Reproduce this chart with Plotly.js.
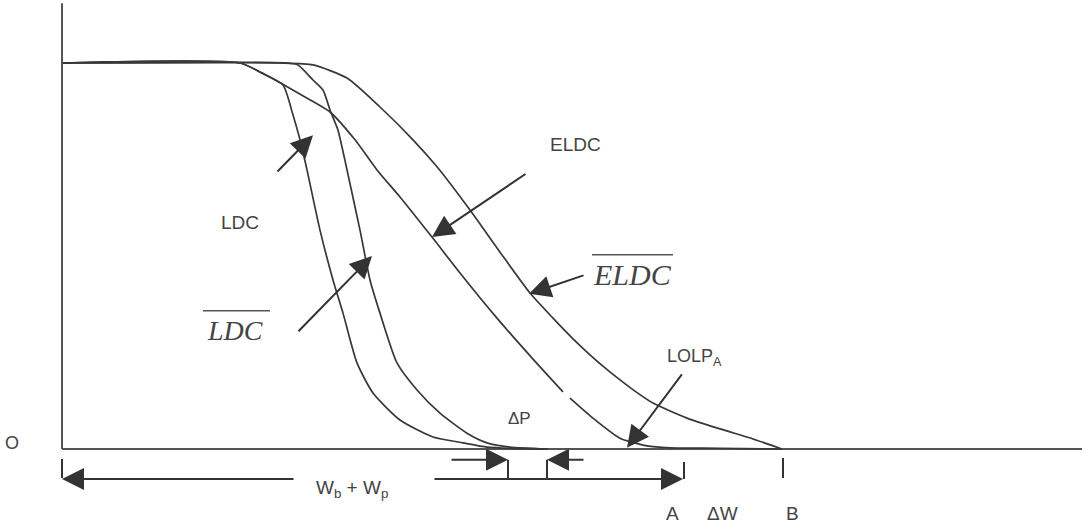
<!DOCTYPE html>
<html>
<head>
<meta charset="utf-8">
<script src="https://cdn.plot.ly/plotly-3.0.1.min.js"></script>
<style>html,body{margin:0;padding:0;background:#fff;}#chart{width:1082px;height:526px;}</style>
</head>
<body>
<div id="chart"></div>
<script>
// Capacity (x) and probability (y) for each curve
const ldcX  = [0, 178, 200, 221, 231, 238, 245, 258, 271, 281, 295, 311, 338, 371, 401, 425, 458, 483];
const ldcY  = [1, 1, 0.974, 0.943, 0.865, 0.801, 0.723, 0.567, 0.438, 0.352, 0.223, 0.145, 0.075, 0.031, 0.016, 0.005, 0.001, 0];

const ldcBarX = [0, 226, 236, 251, 261, 268, 276, 285, 298, 308, 318, 335, 355, 378, 405, 425, 448, 486];
const ldcBarY = [1, 1, 0.995, 0.956, 0.930, 0.878, 0.826, 0.723, 0.567, 0.438, 0.352, 0.223, 0.153, 0.093, 0.041, 0.016, 0.005, 0];

const eldcX = [0, 178, 200, 220, 243, 268, 293, 315, 338, 370, 398, 435, 471, 501, null, 508, 531, 558, 585, 608, 658, 720];
const eldcY = [1, 1, 0.974, 0.946, 0.912, 0.873, 0.801, 0.723, 0.653, 0.549, 0.456, 0.339, 0.233, 0.148, null, 0.132, 0.080, 0.028, 0.008, 0.003, 0.002, 0];

const eldcBarX = [0, 218, 251, 285, 318, 351, 375, 408, 438, 468, 491, 510, 528, 543, 558, 574, 591, 625, 658, 691, 720];
const eldcBarY = [1, 1, 0.995, 0.961, 0.886, 0.801, 0.731, 0.619, 0.510, 0.404, 0.339, 0.288, 0.244, 0.210, 0.179, 0.148, 0.119, 0.080, 0.052, 0.026, 0];

const axisX = [0, 1020];
const axisY = [0, 0];

const curveStyle = {color: '#383838', width: 1.7, shape: 'spline', smoothing: 0.6};
const traces = [
  {x: axisX, y: axisY, mode: 'lines', line: {color: '#555', width: 2}, hoverinfo: 'skip'},
  {x: ldcX, y: ldcY, mode: 'lines', line: curveStyle, hoverinfo: 'skip'},
  {x: ldcBarX, y: ldcBarY, mode: 'lines', line: curveStyle, hoverinfo: 'skip'},
  {x: eldcX, y: eldcY, mode: 'lines', line: curveStyle, connectgaps: false, hoverinfo: 'skip'},
  {x: eldcBarX, y: eldcBarY, mode: 'lines', line: curveStyle, hoverinfo: 'skip'}
];

const sans = {family: 'Liberation Sans, Arial, sans-serif', color: '#444'};
function label(x, y, text, size, extra) {
  return Object.assign({x: x, y: y, xref: 'x', yref: 'y', text: text, showarrow: false,
    font: Object.assign({}, sans, {size: size}), xanchor: 'center', yanchor: 'middle'}, extra || {});
}
function arrow(x, y, ax, ay) {
  return {x: x, y: y, ax: ax, ay: ay, xref: 'x', yref: 'y', axref: 'x', ayref: 'y', text: '',
    showarrow: true, arrowhead: 2, arrowsize: 2.2, arrowwidth: 2, arrowcolor: '#333'};
}

const annotations = [
  label(-50, 0.016, 'O', 18),
  label(178, 0.588, 'LDC', 19),
  label(513, 0.788, 'ELDC', 19),
  label(457, 0.078, 'ΔP', 17),
  label(603, 0.238, 'LOLP<sub>A</sub>', 18, {xanchor: 'left'}),
  label(252, -0.104, 'W<sub>b</sub> + W<sub>p</sub>', 19, {xanchor: 'left'}),
  label(610, -0.166, 'A', 19),
  label(660, -0.166, 'ΔW', 19),
  label(730, -0.166, 'B', 19),
  label(173, 0.306, '<i>LDC</i>', 28, {font: {family: 'Liberation Serif, Times New Roman, serif', size: 28, color: '#444'}}),
  label(570, 0.453, '<i>ELDC</i>', 30, {font: {family: 'Liberation Serif, Times New Roman, serif', size: 30, color: '#444'}}),
  arrow(251, 0.813, 214, 0.715),
  arrow(310, 0.500, 235, 0.301),
  arrow(370, 0.549, 465, 0.715),
  arrow(467, 0.402, 523, 0.451),
  arrow(565, 0.003, 621, 0.197),
  arrow(446, -0.028, 388, -0.028),
  arrow(485, -0.028, 523, -0.028),
  arrow(0, -0.078, 233, -0.078),
  arrow(621, -0.078, 371, -0.078)
];

function seg(x0, y0, x1, y1, color, width) {
  return {type: 'line', xref: 'x', yref: 'y', x0: x0, y0: y0, x1: x1, y1: y1,
    line: {color: color || '#333', width: width || 2}};
}
const shapes = [
  seg(0, 0, 0, 1.155, '#555', 2),
  seg(0, -0.026, 0, -0.075),
  seg(446, -0.028, 446, -0.078),
  seg(485, -0.028, 485, -0.078),
  seg(622, -0.034, 622, -0.078),
  seg(721, -0.023, 721, -0.075),
  seg(141, 0.358, 208, 0.358, '#555', 1.5),
  seg(530, 0.503, 611, 0.503, '#555', 1.5)
];

const layout = {
  width: 1082, height: 526,
  margin: {l: 0, r: 0, t: 0, b: 0},
  paper_bgcolor: '#fff', plot_bgcolor: '#fff',
  showlegend: false,
  xaxis: {range: [-62, 1020], visible: false, fixedrange: true},
  yaxis: {range: [-0.19948, 1.16321], visible: false, fixedrange: true},
  annotations: annotations,
  shapes: shapes
};

Plotly.newPlot('chart', traces, layout, {staticPlot: true, displayModeBar: false});
</script>
</body>
</html>
